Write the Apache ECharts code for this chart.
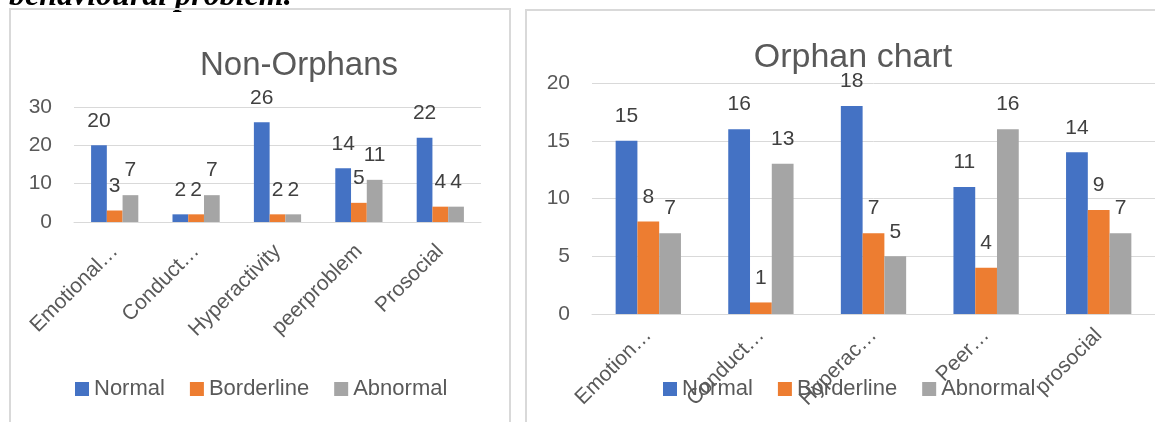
<!DOCTYPE html>
<html>
<head>
<meta charset="utf-8">
<script src="https://cdn.jsdelivr.net/npm/echarts@6/dist/echarts.min.js"></script>
<style>
  html, body { margin: 0; padding: 0; background: #ffffff; }
  #chart { width: 1155px; height: 422px; }
</style>
</head>
<body>
<div id="chart"></div>
<script>
// Series shared by both panels
const seriesNames = ['Normal', 'Borderline', 'Abnormal'];
const seriesColors = ['#4472C4', '#ED7D31', '#A5A5A5'];

// Non-Orphans panel
const nonOrphanCategories = ['Emotional…', 'Conduct…', 'Hyperactivity', 'peerproblem', 'Prosocial'];
const nonOrphanNormal = [20, 2, 26, 14, 22];
const nonOrphanBorderline = [3, 2, 2, 5, 4];
const nonOrphanAbnormal = [7, 7, 2, 11, 4];

// Orphan panel
const orphanCategories = ['Emotion…', 'Conduct…', 'Hyperac…', 'Peer…', 'prosocial'];
const orphanNormal = [15, 16, 18, 11, 14];
const orphanBorderline = [8, 1, 7, 4, 9];
const orphanAbnormal = [7, 13, 5, 16, 7];

const FONT = 'Liberation Sans, Arial, sans-serif';
const AXIS_TEXT = '#595959';
const LABEL_TEXT = '#404040';
const GRID_LINE = '#D9D9D9';

function barSeries(name, color, data, axisIndex) {
  return {
    type: 'bar',
    name: name,
    xAxisIndex: axisIndex,
    yAxisIndex: axisIndex,
    data: data,
    barGap: '0%',
    barCategoryGap: '42%',
    itemStyle: { color: color },
    label: {
      show: true,
      position: 'top',
      distance: 14,
      color: LABEL_TEXT,
      fontFamily: FONT,
      fontSize: 21
    },
    emphasis: { disabled: true }
  };
}

function catAxis(gridIndex, cats, margin) {
  return {
    type: 'category',
    gridIndex: gridIndex,
    data: cats,
    axisLine: { show: true, lineStyle: { color: GRID_LINE, width: 1 } },
    axisTick: { show: false },
    axisLabel: {
      rotate: 45,
      margin: margin,
      interval: 0,
      color: AXIS_TEXT,
      fontFamily: FONT,
      fontSize: 21
    }
  };
}

function valAxis(gridIndex, max, step) {
  return {
    type: 'value',
    gridIndex: gridIndex,
    min: 0,
    max: max,
    interval: step,
    axisLine: { show: false },
    axisTick: { show: false },
    splitLine: { lineStyle: { color: GRID_LINE, width: 1 } },
    axisLabel: {
      margin: 22,
      color: AXIS_TEXT,
      fontFamily: FONT,
      fontSize: 21
    }
  };
}

function legendAt(left) {
  return {
    data: seriesNames,
    left: left,
    top: 378,
    padding: 0,
    icon: 'rect',
    itemWidth: 14,
    itemHeight: 14,
    itemGap: 25,
    selectedMode: false,
    textStyle: { color: AXIS_TEXT, fontFamily: FONT, fontSize: 22 }
  };
}

const chart = echarts.init(document.getElementById('chart'), null, { renderer: 'canvas' });

chart.setOption({
  animation: false,
  backgroundColor: '#ffffff',
  title: [
    {
      text: 'Non-Orphans',
      left: 294, top: 44, textAlign: 'center',
      textStyle: { color: AXIS_TEXT, fontFamily: FONT, fontSize: 33, fontWeight: 'normal' }
    },
    {
      text: 'Orphan chart',
      left: 848, top: 36, textAlign: 'center',
      textStyle: { color: AXIS_TEXT, fontFamily: FONT, fontSize: 34, fontWeight: 'normal' }
    }
  ],
  legend: [legendAt(75), legendAt(663)],
  grid: [
    { left: 74, top: 107, width: 407, height: 115, containLabel: false },
    { left: 592, top: 83, width: 578, height: 231, containLabel: false }
  ],
  xAxis: [catAxis(0, nonOrphanCategories, 26), catAxis(1, orphanCategories, 18)],
  yAxis: [valAxis(0, 30, 10), valAxis(1, 20, 5)],
  series: [
    barSeries(seriesNames[0], seriesColors[0], nonOrphanNormal, 0),
    barSeries(seriesNames[1], seriesColors[1], nonOrphanBorderline, 0),
    barSeries(seriesNames[2], seriesColors[2], nonOrphanAbnormal, 0),
    barSeries(seriesNames[0], seriesColors[0], orphanNormal, 1),
    barSeries(seriesNames[1], seriesColors[1], orphanBorderline, 1),
    barSeries(seriesNames[2], seriesColors[2], orphanAbnormal, 1)
  ],
  graphic: [
    // document heading running off the top edge
    {
      type: 'text',
      left: 9, top: -19,
      style: {
        text: 'behavioural problem.',
        font: 'italic bold 32px "Liberation Serif", "Times New Roman", serif',
        fill: '#000000'
      }
    },
    // chart frames
    {
      type: 'rect',
      shape: { x: 10, y: 9, width: 500, height: 460 },
      style: { fill: 'none', stroke: '#D9D9D9', lineWidth: 2 },
      silent: true
    },
    {
      type: 'rect',
      shape: { x: 526, y: 10, width: 700, height: 460 },
      style: { fill: 'none', stroke: '#D9D9D9', lineWidth: 2 },
      silent: true
    }
  ]
});
</script>
</body>
</html>
